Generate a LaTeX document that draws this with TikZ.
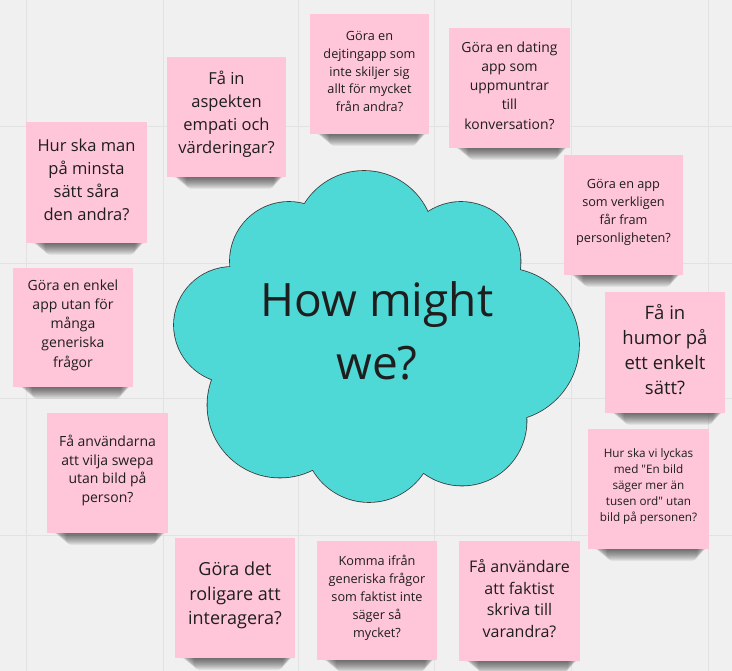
\documentclass[tikz,border=0pt]{standalone}
\usepackage{fontspec}
\setmainfont{Open Sans}[Ligatures=TeXOff]
\definecolor{bg}{HTML}{F0F0F0}
\definecolor{gridc}{HTML}{E2E2E2}
\definecolor{pinknote}{HTML}{FFC5D9}
\definecolor{teal}{RGB}{78,216,214}
\definecolor{outl}{HTML}{3C3C3C}
\definecolor{ink}{HTML}{1E1E1E}
\tikzset{
  note/.style={fill=pinknote, draw=none, inner sep=0pt},
  notetext/.style={inner sep=0pt, align=center, text=ink},
}
\newcommand\sticky[8]{%
  \pgfmathsetmacro\cxx{(#2+#4)/2}%
  \pgfmathsetmacro\cyy{(#3+#5)/2}%
  \pgfmathsetmacro\ww{#4-#2}%
  \pgfmathsetmacro\hh{#5-#3}%
  \foreach \i in {0,...,11}{%
    \fill[black,opacity=0.06,rounded corners=5pt] (#2+6+\i*1.2, #5-4) rectangle (#4-2-\i*0.9, #5+1+\i*1.0);
  }%
  \node[note, minimum width=\ww pt, minimum height=\hh pt] (#1) at (\cxx,\cyy) {};
  \node[notetext, font=\fontsize{#6}{#7}\selectfont] (#1t) at ([yshift=2.5pt]#1.center) {#8};
}
\begin{document}
\begin{tikzpicture}[x=1pt,y=-1pt]
\useasboundingbox (0,0) rectangle (732,671);
\fill[bg] (0,0) rectangle (732,671);
% grid
\foreach \gx in {26,163,298,434,571,708} \draw[gridc, line width=1pt] (\gx,0) -- (\gx,671);
\foreach \gy in {127,264,399,535} \draw[gridc, line width=1pt] (0,\gy) -- (732,\gy);
% cloud
\def\cloudpath{(364,241) circle[radius=70pt] (461,261.5) circle[radius=59.5pt] (502.5,344.5) circle[radius=76.5pt] (462,421) circle[radius=64.5pt] (369,437) circle[radius=65pt] (280,405) circle[radius=72.5pt] (232,325) circle[radius=58pt] (289,261) circle[radius=59pt]}
\draw[outl, line width=1.6pt] \cloudpath;
\fill[teal] \cloudpath;
\fill[teal] (307,209) -- (427,217) -- (515,273) -- (522,414) -- (422,468) -- (315,465) -- (217,377) -- (235,270) -- cycle;
\node[text=ink, align=center, font=\fontsize{46}{63}\selectfont] (hmw) at (377,331) {How might\\we?};
% notes
\sticky{n1}{26}{122}{147}{243}{16.5}{23}{Hur ska man\\på minsta\\sätt såra\\den andra?}
\sticky{n2}{167}{57}{286}{177}{16.5}{23}{Få in\\aspekten\\empati och\\värderingar?}
\sticky{n3}{310}{14}{429}{134}{12.7}{17.7}{Göra en\\dejtingapp som\\inte skiljer sig\\allt för mycket\\från andra?}
\sticky{n4}{449}{28}{570}{148}{13.9}{19.2}{Göra en dating\\app som\\uppmuntrar\\till\\konversation?}
\sticky{n5}{564}{155}{683}{275}{12.7}{17.8}{Göra en app\\som verkligen\\får fram\\personligheten?}
\sticky{n6}{605}{292}{725}{413}{18.5}{25}{Få in\\humor på\\ett enkelt\\sätt?}
\sticky{n7}{588}{429}{709}{549}{11.7}{15.8}{Hur ska vi lyckas\\med "En bild\\säger mer än\\tusen ord" utan\\bild på personen?}
\sticky{n8}{459}{541}{580}{661}{16}{21.7}{Få användare\\att faktist\\skriva till\\varandra?}
\sticky{n9}{317}{541}{437}{660}{12.7}{17.9}{Komma ifrån\\generiska frågor\\som faktist inte\\säger så\\mycket?}
\sticky{n10}{175}{538}{295}{658}{18}{24.7}{Göra det\\roligare att\\interagera?}
\sticky{n11}{47}{413}{168}{533}{14}{18.8}{Få användarna\\att vilja swepa\\utan bild på\\person?}
\sticky{n12}{13}{268}{133}{387}{14}{19.2}{Göra en enkel\\app utan för\\många\\generiska\\frågor}
\end{tikzpicture}
\end{document}
